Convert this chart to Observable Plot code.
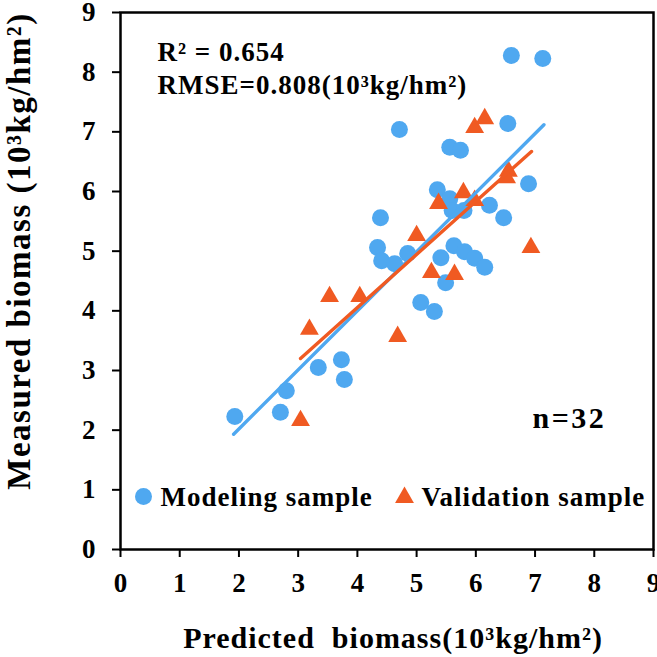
<!DOCTYPE html>
<html>
<head>
<meta charset="utf-8">
<script src="https://cdn.jsdelivr.net/npm/d3@7"></script>
<script src="https://cdn.jsdelivr.net/npm/@observablehq/plot@0.6"></script>
<style>
  html, body { margin: 0; padding: 0; background: #fff; }
  .ls10 text { letter-spacing: 1px; }
  .ls15 text { letter-spacing: 1.5px; }
  .ls25 text { letter-spacing: 2.5px; }
</style>
</head>
<body>
<div id="chart"></div>
<script>
// Modeling sample (predicted, measured), 10^3 kg/hm^2
const modelPred = [1.93, 2.70, 2.80, 3.34, 3.73, 3.78, 4.39, 4.34, 4.41, 4.63, 4.85, 5.41, 5.63, 5.81, 5.98, 6.15, 5.49, 5.07, 5.30, 5.35, 5.56, 5.60, 5.80, 6.23, 6.47, 6.89, 4.71, 6.54, 5.56, 5.74, 6.60, 7.13];
const modelMeas = [2.23, 2.30, 2.66, 3.05, 3.18, 2.85, 5.56, 5.06, 4.84, 4.79, 4.96, 4.89, 5.09, 4.99, 4.88, 4.73, 4.47, 4.14, 3.99, 6.03, 5.88, 5.68, 5.68, 5.77, 5.56, 6.13, 7.04, 7.14, 6.74, 6.69, 8.28, 8.23];
// Validation sample
const validPred = [3.04, 3.19, 3.53, 4.04, 4.68, 5.00, 5.25, 5.64, 5.37, 5.79, 5.98, 6.55, 6.52, 5.98, 6.15, 6.93];
const validMeas = [2.16, 3.69, 4.24, 4.24, 3.57, 5.26, 4.64, 4.61, 5.80, 5.98, 5.85, 6.34, 6.23, 7.07, 7.22, 5.06];
// Fitted lines: [slope, intercept, xStart, xEnd]
const modelFit = [0.99, 0.04, 1.91, 7.15];
const validFit = [0.89, 0.495, 3.04, 6.94];
const xTicks = [0, 1, 2, 3, 4, 5, 6, 7, 8, 9];
const yTicks = [0, 1, 2, 3, 4, 5, 6, 7, 8, 9];
const seriesNames = ["Modeling sample", "Validation sample"];
const annotations = ["R\u00b2 = 0.654", "RMSE=0.808(10\u00b3kg/hm\u00b2)", "n=32"];
const xLabel = "Predicted  biomass(10\u00b3kg/hm\u00b2)";
const yLabel = "Measured biomass (10\u00b3kg/hm\u00b2)";

const blue = "#4fa8f0";
const orange = "#f05a22";

const modelData = modelPred.map((x, i) => ({x, y: modelMeas[i]}));
const validData = validPred.map((x, i) => ({x, y: validMeas[i]}));
const fitPts = f => [f[2], f[3]].map(x => ({x, y: f[1] + f[0] * x}));

const chart = Plot.plot({
  width: 657,
  height: 657,
  marginLeft: 120,
  marginRight: 4,
  marginTop: 12,
  marginBottom: 108,
  style: {fontFamily: "'Liberation Serif', 'Times New Roman', serif", fontWeight: "bold", color: "#000", background: "#fff"},
  x: {domain: [0, 9]},
  y: {domain: [0, 9]},
  marks: [
    Plot.axisX({ticks: xTicks, tickSize: 8, tickPadding: 15, fontSize: 27, label: null, strokeWidth: 2}),
    Plot.axisY({ticks: yTicks, tickSize: 8, tickPadding: 17, fontSize: 27, label: null, strokeWidth: 2}),
    Plot.frame({stroke: "#000", strokeWidth: 2.5}),
    Plot.dot(modelData, {x: "x", y: "y", r: 8.5, fill: blue, symbol: "circle"}),
    Plot.dot(validData, {x: "x", y: "y", r: 7, fill: orange, symbol: "triangle"}),
    Plot.line(fitPts(modelFit), {x: "x", y: "y", stroke: blue, strokeWidth: 3.4}),
    Plot.line(fitPts(validFit), {x: "x", y: "y", stroke: orange, strokeWidth: 3.4}),
    Plot.text([annotations[0]], {text: d => d, frameAnchor: "top-left", dx: 37, dy: 48, textAnchor: "start", lineAnchor: "bottom", fontSize: 27, className: "ls10"}),
    Plot.text([annotations[1]], {text: d => d, frameAnchor: "top-left", dx: 37, dy: 81, textAnchor: "start", lineAnchor: "bottom", fontSize: 27, className: "ls10"}),
    Plot.text([annotations[2]], {text: d => d, frameAnchor: "top-left", dx: 412, dy: 415, textAnchor: "start", lineAnchor: "bottom", fontSize: 30, className: "ls25"}),
    Plot.dot([0], {frameAnchor: "bottom-left", dx: 23, dy: -53, r: 8.5, fill: blue, symbol: "circle"}),
    Plot.text([seriesNames[0]], {text: d => d, frameAnchor: "bottom-left", dx: 40, dy: -44, textAnchor: "start", lineAnchor: "bottom", fontSize: 27, className: "ls10"}),
    Plot.dot([0], {frameAnchor: "bottom-left", dx: 284, dy: -52, r: 7, fill: orange, symbol: "triangle"}),
    Plot.text([seriesNames[1]], {text: d => d, frameAnchor: "bottom-left", dx: 301, dy: -44, textAnchor: "start", lineAnchor: "bottom", fontSize: 27, className: "ls10"}),
    Plot.text([xLabel], {text: d => d, frameAnchor: "bottom", dx: 6, dy: 98, textAnchor: "middle", lineAnchor: "bottom", fontSize: 30, className: "ls10"}),
    Plot.text([yLabel], {text: d => d, frameAnchor: "left", dx: -101, dy: -30, rotate: -90, textAnchor: "middle", lineAnchor: "middle", fontSize: 33, className: "ls15"})
  ]
});
document.getElementById("chart").appendChild(chart);
</script>
</body>
</html>
